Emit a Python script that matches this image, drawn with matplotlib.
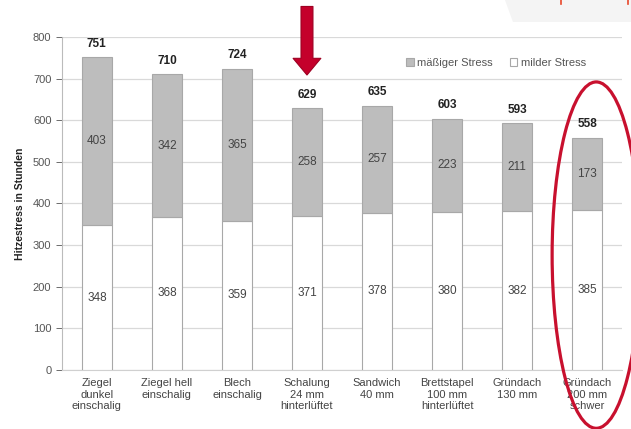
import matplotlib.pyplot as plt
from matplotlib.patches import Ellipse, Polygon
from matplotlib.lines import Line2D

plt.rcParams['font.family'] = ['Liberation Sans', 'DejaVu Sans']

# Daten
categories = ['Ziegel\ndunkel\neinschalig', 'Ziegel hell\neinschalig', 'Blech\neinschalig',
              'Schalung\n24 mm\nhinterlüftet', 'Sandwich\n40 mm', 'Brettstapel\n100 mm\nhinterlüftet',
              'Gründach\n130 mm', 'Gründach\n200 mm\nschwer']
milder = [348, 368, 359, 371, 378, 380, 382, 385]
maessig = [403, 342, 365, 258, 257, 223, 211, 173]
totals = [751, 710, 724, 629, 635, 603, 593, 558]
yticks = [0, 100, 200, 300, 400, 500, 600, 700, 800]

fig = plt.figure(figsize=(6.31, 4.29), dpi=100)
ax = fig.add_axes([0.098, 0.1375, 0.888, 0.7763])

x = range(len(categories))
w = 0.42
ax.bar(x, milder, w, color='white', edgecolor='#a8a8a8', linewidth=0.8,
       label='milder Stress', zorder=3)
ax.bar(x, maessig, w, bottom=milder, color='#bdbdbd', edgecolor='#a8a8a8',
       linewidth=0.8, label='mäßiger Stress', zorder=3)

for i in x:
    ax.text(i, milder[i] / 2, str(milder[i]), ha='center', va='center',
            fontsize=8.5, color='#444444', zorder=4)
    ax.text(i, milder[i] + maessig[i] / 2, str(maessig[i]), ha='center', va='center',
            fontsize=8.5, color='#444444', zorder=4)
    ax.text(i, totals[i] + 18, str(totals[i]), ha='center', va='bottom',
            fontsize=8.5, fontweight='bold', color='#222222', zorder=4)

ax.set_xlim(-0.5, 7.5)
ax.set_ylim(0, 800)
ax.set_yticks(yticks)
ax.set_xticks(list(x))
ax.set_xticklabels(categories, fontsize=8, color='#444444', linespacing=1.15)
ax.tick_params(axis='y', labelsize=8, colors='#555555', length=4, width=0.6)
ax.tick_params(axis='x', length=0, pad=6)
ax.yaxis.grid(True, color='#d9d9d9', linewidth=0.9, zorder=0)
ax.set_axisbelow(True)
for s in ['top', 'right']:
    ax.spines[s].set_visible(False)
ax.spines['left'].set_color('#bbbbbb')
ax.spines['bottom'].set_color('#d0d0d0')
ax.set_ylabel('Hitzestress in Stunden', fontsize=7.5, fontweight='bold',
              color='#222222', labelpad=6)

handles, labels = ax.get_legend_handles_labels()
ax.legend(handles[::-1], labels[::-1], ncol=2, frameon=False, fontsize=8,
          loc='center', bbox_to_anchor=(0.775, 0.922), handlelength=0.7,
          handleheight=0.7, handletextpad=0.3, columnspacing=1.5,
          labelcolor='#555555')

# roter Pfeil über "Schalung"
ax.annotate('', xy=(3, 702), xytext=(3, 880), annotation_clip=False,
            arrowprops=dict(arrowstyle='simple,head_length=0.6,head_width=1.0,tail_width=0.43',
                            mutation_scale=20, fc='#c4002b', ec='#9e0022', lw=0.8))

# rote Ellipse um Gründach 200 mm
ax.add_patch(Ellipse((7.13, 276), 1.26, 832, fill=False, ec='#c8102e', lw=2.3,
                     clip_on=False, zorder=5))

# heller Hintergrundstreifen oben rechts
fig.patches.append(Polygon([(505 / 631, 1), (1, 1), (1, 1 - 22 / 429), (513 / 631, 1 - 22 / 429)],
                           closed=True, transform=fig.transFigure, fc='#f4f4f4', ec='none', zorder=0))
for px in [561, 628]:
    fig.lines.append(Line2D([px / 631, px / 631], [1, 1 - 4 / 429], transform=fig.transFigure,
                            color='#e8472a', lw=1.2))

fig.savefig('out.png', dpi=100)
